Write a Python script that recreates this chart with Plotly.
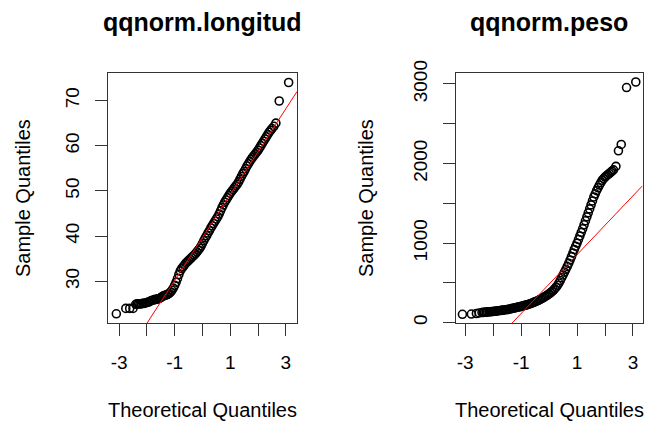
import plotly.graph_objects as go

# ---------------- data ----------------
long_theo = [-3.10, -2.76, -2.62, -2.50, -2.40, -2.35, -2.30, -2.25, -2.20, -2.15, -2.10, -2.05,
             -2.00, -1.95, -1.90, -1.85, -1.80, -1.75, -1.70, -1.65, -1.60, -1.55, -1.50, -1.45,
             -1.40, -1.35, -1.30, -1.25, -1.20, -1.15, -1.10, -1.05, -1.00, -0.95, -0.90, -0.85,
             -0.80, -0.75, -0.70, -0.65, -0.60, -0.55, -0.50, -0.45, -0.40, -0.35, -0.30, -0.25,
             -0.20, -0.15, -0.10, -0.05, 0.00, 0.05, 0.10, 0.15, 0.20, 0.25, 0.30, 0.35,
             0.40, 0.45, 0.50, 0.55, 0.60, 0.65, 0.70, 0.75, 0.80, 0.85, 0.90, 0.95,
             1.00, 1.05, 1.10, 1.15, 1.20, 1.25, 1.30, 1.35, 1.40, 1.45, 1.50, 1.55,
             1.60, 1.65, 1.70, 1.75, 1.80, 1.85, 1.90, 1.95, 2.00, 2.05, 2.10, 2.15,
             2.20, 2.25, 2.30, 2.35, 2.40, 2.45, 2.50, 2.57, 2.64, 2.76, 3.10]
long_sample = [22.8, 24.0, 24.0, 24.0, 24.9, 25.0, 25.0, 25.0, 25.0, 25.1, 25.1, 25.2,
               25.3, 25.4, 25.5, 25.7, 25.8, 25.9, 26.0, 26.0, 26.1, 26.2, 26.4, 26.6,
               26.8, 26.9, 27.0, 27.1, 27.3, 27.6, 28.0, 28.5, 29.1, 29.8, 30.6, 31.5,
               32.3, 32.8, 33.2, 33.6, 34.0, 34.3, 34.6, 34.9, 35.2, 35.5, 35.8, 36.1,
               36.5, 36.9, 37.3, 37.8, 38.4, 39.0, 39.6, 40.1, 40.7, 41.2, 41.8, 42.3,
               42.8, 43.3, 43.8, 44.3, 44.9, 45.6, 46.3, 46.9, 47.5, 48.0, 48.5, 49.0,
               49.5, 49.9, 50.3, 50.7, 51.1, 51.5, 52.0, 52.6, 53.2, 53.8, 54.3, 54.9,
               55.5, 56.0, 56.5, 57.0, 57.4, 57.8, 58.2, 58.6, 59.0, 59.5, 60.0, 60.5,
               61.0, 61.5, 62.0, 62.5, 63.0, 63.4, 63.8, 64.3, 65.0, 69.9, 74.0]
long_line_intercept = 39.7
long_line_slope = 9.5

peso_theo = [-3.10, -2.78, -2.60, -2.50, -2.40, -2.35, -2.30, -2.25, -2.20, -2.15, -2.10, -2.05,
             -2.00, -1.95, -1.90, -1.85, -1.80, -1.75, -1.70, -1.65, -1.60, -1.55, -1.50, -1.45,
             -1.40, -1.35, -1.30, -1.25, -1.20, -1.15, -1.10, -1.05, -1.00, -0.95, -0.90, -0.85,
             -0.80, -0.75, -0.70, -0.65, -0.60, -0.55, -0.50, -0.45, -0.40, -0.35, -0.30, -0.25,
             -0.20, -0.15, -0.10, -0.05, 0.00, 0.05, 0.10, 0.15, 0.20, 0.25, 0.30, 0.35,
             0.40, 0.45, 0.50, 0.55, 0.60, 0.65, 0.70, 0.75, 0.80, 0.85, 0.90, 0.95,
             1.00, 1.05, 1.10, 1.15, 1.20, 1.25, 1.30, 1.35, 1.40, 1.45, 1.50, 1.55,
             1.60, 1.65, 1.70, 1.75, 1.80, 1.85, 1.90, 1.95, 2.00, 2.05, 2.10, 2.15,
             2.20, 2.25, 2.30, 2.39, 2.48, 2.58, 2.77, 3.10]
peso_sample = [105, 108, 115, 122, 127, 129, 131, 133, 135, 136, 138, 139,
               141, 143, 145, 147, 150, 152, 155, 157, 160, 162, 165, 168,
               172, 176, 180, 184, 188, 192, 196, 200, 205, 209, 214, 219,
               224, 229, 235, 241, 248, 255, 262, 270, 278, 287, 296, 306,
               316, 327, 338, 350, 362, 376, 390, 407, 425, 446, 470, 498,
               530, 565, 600, 635, 670, 707, 745, 787, 830, 875, 920, 960,
               1000, 1045, 1090, 1135, 1180, 1230, 1280, 1330, 1380, 1430, 1480, 1530,
               1580, 1620, 1660, 1695, 1730, 1760, 1790, 1810, 1830, 1845, 1860, 1875,
               1890, 1905, 1920, 1965, 2160, 2240, 2955, 3025]
peso_line_intercept = 485
peso_line_slope = 370

x_tick_vals = [-3, -2, -1, 0, 1, 2, 3]
x_tick_text = ["-3", "", "-1", "", "1", "", "3"]
long_y_ticks = [30, 40, 50, 60, 70]
peso_y_ticks = [0, 500, 1000, 1500, 2000, 2500, 3000]
peso_y_text = ["0", "", "1000", "", "2000", "", "3000"]

titles = ["qqnorm.longitud", "qqnorm.peso"]
x_title = "Theoretical Quantiles"
y_title = "Sample Quantiles"

# ---------------- layout geometry ----------------
W, H = 646, 423
FONT = "Liberation Sans, Arial, sans-serif"
long_xrange = [-3.40, 3.40]
peso_xrange = [-3.33, 3.34]
long_yrange = [20.7, 76.1]
peso_yrange = [-8, 3138]

def px_x(p):
    return p / W

def px_y(p):
    return (H - p) / H

dom_y = [px_y(323.3), px_y(73)]
dom_x1 = [px_x(108), px_x(297)]
dom_x2 = [px_x(456), px_x(642.5)]

fig = go.Figure()

marker = dict(symbol="circle-open", size=8, color="black", line=dict(width=1.6, color="black"))

fig.add_trace(go.Scatter(x=long_theo, y=long_sample, mode="markers", marker=marker,
                         xaxis="x", yaxis="y", showlegend=False, hoverinfo="skip"))
fig.add_trace(go.Scatter(x=long_xrange,
                         y=[long_line_intercept + long_line_slope * v for v in long_xrange],
                         mode="lines", line=dict(color="red", width=1),
                         xaxis="x", yaxis="y", showlegend=False, hoverinfo="skip"))
fig.add_trace(go.Scatter(x=peso_theo, y=peso_sample, mode="markers", marker=marker,
                         xaxis="x2", yaxis="y2", showlegend=False, hoverinfo="skip"))
fig.add_trace(go.Scatter(x=peso_xrange,
                         y=[peso_line_intercept + peso_line_slope * v for v in peso_xrange],
                         mode="lines", line=dict(color="red", width=1),
                         xaxis="x2", yaxis="y2", showlegend=False, hoverinfo="skip"))

axis_common = dict(showline=True, mirror=True, linecolor="#333333", linewidth=1,
                   ticks="outside", ticklen=12, tickwidth=1, tickcolor="#333333",
                   showgrid=False, zeroline=False, fixedrange=True, automargin=False,
                   tickfont=dict(family=FONT, size=19, color="black"))

fig.update_layout(
    width=W, height=H,
    margin=dict(l=0, r=0, t=0, b=0),
    paper_bgcolor="white", plot_bgcolor="white",
    xaxis=dict(domain=dom_x1, range=long_xrange, tickvals=x_tick_vals, ticktext=x_tick_text,
               anchor="y", ticklabelstandoff=10, **axis_common),
    yaxis=dict(domain=dom_y, range=long_yrange, tickvals=long_y_ticks, tickangle=-90,
               anchor="x", ticklabelstandoff=8, **axis_common),
    xaxis2=dict(domain=dom_x2, range=peso_xrange, tickvals=x_tick_vals, ticktext=x_tick_text,
                anchor="y2", ticklabelstandoff=10, **axis_common),
    yaxis2=dict(domain=dom_y, range=peso_yrange, tickvals=peso_y_ticks, ticktext=peso_y_text,
                tickangle=-90, anchor="x2", ticklabelstandoff=8, **axis_common),
)

ann = []
centers = [(108 + 297) / 2, (456 + 642.5) / 2]
ylab_x = [23, 366]
for i in range(2):
    ann.append(dict(text="<b>%s</b>" % titles[i], x=px_x(centers[i]), y=px_y(22),
                    xref="paper", yref="paper", showarrow=False, xanchor="center", yanchor="middle",
                    font=dict(family=FONT, size=25, color="black")))
    ann.append(dict(text=x_title, x=px_x(centers[i]), y=px_y(410),
                    xref="paper", yref="paper", showarrow=False, xanchor="center", yanchor="middle",
                    font=dict(family=FONT, size=20, color="black")))
    ann.append(dict(text=y_title, x=px_x(ylab_x[i]), y=px_y(198),
                    xref="paper", yref="paper", showarrow=False, xanchor="center", yanchor="middle",
                    textangle=-90, font=dict(family=FONT, size=20, color="black")))
fig.update_layout(annotations=ann)

fig.write_html("out.html", config={"displayModeBar": False},
               post_script="document.body.style.margin='0';document.body.style.overflow='hidden';")
